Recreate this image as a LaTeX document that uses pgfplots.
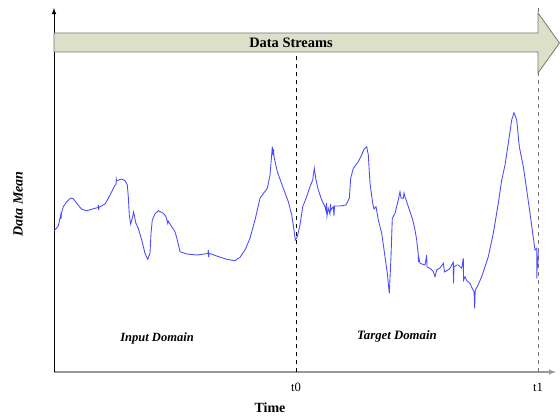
\documentclass[border=0pt]{standalone}
\usepackage{pgfplots}
\pgfplotsset{compat=1.18}
\usepackage{fontspec}
\setmainfont{Liberation Serif}
\definecolor{bandfill}{RGB}{220,224,200}
\definecolor{bandedge}{RGB}{120,120,120}
\definecolor{curve}{RGB}{75,75,255}
\begin{document}
\begin{tikzpicture}
\begin{axis}[
    scale only axis,
    width=376.5pt, height=273pt,
    xmin=54, xmax=556, ymin=45, ymax=409,
    axis lines=left,
    x axis line style={gray!80, line width=0.8pt, -latex},
    y axis line style={black, line width=0.6pt, -latex},
    xtick={296,538}, xticklabels={t0,t1},
    ytick=\empty,
    major tick length=0pt,
    xticklabel style={font=\fontsize{9.5}{10}\selectfont, yshift=-5pt},
    clip=false
]
% page extent
\path (axis cs:0,0) rectangle (axis cs:560,417);

% period markers
\draw[dashed, line width=0.6pt] (axis cs:296,45) -- (axis cs:296,365);
\draw[dashed, line width=0.6pt, gray!90!black] (axis cs:538,45) -- (axis cs:538,410);

% data streams arrow
\filldraw[fill=bandfill, draw=bandedge, line width=0.6pt]
  (axis cs:54,384) -- (axis cs:538,384) -- (axis cs:538,404) -- (axis cs:559.5,374)
  -- (axis cs:538,344) -- (axis cs:538,365) -- (axis cs:54,365) -- cycle;
\node[font=\bfseries\fontsize{10.8}{12}\selectfont] at (axis cs:291,374) {Data Streams};

\addplot[curve, line width=0.65pt] coordinates {
(54.3,186.3) (58.3,191) (60.7,202) (61,198) (61.5,204) (63.3,210.3) (66.7,215.3) (70.7,219) (73.3,218.3)
(76.7,213.7) (81.7,207.7) (86.7,206.3) (98,209.5) (98.3,212) (98.7,207) (99,209.7) (105,213)
(108.3,218.7) (111.7,225.3) (115,232) (116,232) (116.3,238) (116.7,236.3) (121.7,238) (125,236.3)
(127.3,232) (128.3,220.3) (129.3,202) (130.7,193) (132.7,200.3) (133.5,205) (134.3,202) (135.7,194.3)
(138.3,188.7) (141.7,177) (145,163.7) (147.7,157.7) (150,163.7) (151,183.7) (152.3,197) (155,203)
(158.3,206.3) (163.3,203.7) (166,200.3) (167.7,193.7) (168.2,196) (171.7,190.3) (175,185.3) (177.3,177)
(180,165.3) (186.7,163) (196.7,162) (208,163.5) (208.3,167) (208.6,160) (209,163.7) (216.7,161)
(226.7,157.7) (235,156.3) (240,159.7) (245,167) (250,178.7) (255,197) (260,218.7) (264,224.3)
(267.3,228.7) (270,242) (271.5,260) (272.3,270.3) (273,262) (273.5,268) (274,260.3) (277.3,245.3)
(282.7,230.3) (288.3,215.3) (291.7,202) (294,187) (295.3,177) (297.3,180.3)
(300,192) (302.7,210.3) (306.7,220.3) (310,230.3) (312.7,237) (314.3,248.7) (316,237) (318.3,227)
(321.7,217) (325,210.3) (326,206) (326.5,214) (327,201) (328.3,208.7) (330,203) (330.5,213)
(331,207) (333.3,210.3) (334,201) (334.5,211) (340,211) (346,212) (349.3,218.7) (350.7,238.7)
(353.3,248.7) (358.3,255.3) (361.7,262) (364,267.7) (366.7,270.3) (368.3,262) (370,233.7)
(372.7,213.7) (374,208) (376,210.3) (378.3,197) (381.7,183.7) (385,160.3) (387.3,143.7) (389.3,123.7)
(391,160.3) (392.3,198.7) (395,203.7) (398.3,217) (400,225.3) (401,219) (403.3,218.7) (404,224)
(405,220.3) (408.3,210.3) (411.7,200.3) (413,196) (415,187) (416.7,177) (418.3,162) (418.5,155)
(418.7,160) (420,153.7) (425,152) (426.7,162) (427,150) (430,148.7) (433.3,145.3) (435,140.3)
(436.7,147) (440,149) (443.3,153.7) (444.5,145) (448,147) (450,148.7) (453.3,155) (453.5,133.7)
(454,150) (456.7,152) (458.3,152) (461.7,148.7) (463.3,158.7) (463.6,137) (465,140.3) (467,136)
(470,133.7) (472,129) (474,125.3) (474.7,108.7) (475.2,127) (477.3,130.3) (481.7,140.3) (488.3,160.3)
(493.3,183.7) (498.3,213.7) (501.7,237) (505,252) (508.3,273.7) (511.7,297) (514,304.3) (516.7,297)
(519.3,270.3) (523.3,250.3) (526.7,227) (530,203.7) (532.7,183.7) (535,167) (536.7,168.7)
(536.9,138.7) (537.3,160) (537.7,150) (538.3,167)
};

\node[font=\bfseries\itshape\fontsize{9.4}{11}\selectfont] at (axis cs:157,79) {Input Domain};
\node[font=\bfseries\itshape\fontsize{9.6}{11}\selectfont] at (axis cs:397,81) {Target Domain};
\node[font=\bfseries\fontsize{10.5}{12}\selectfont] at (axis cs:270,9) {Time};
\node[font=\bfseries\itshape\fontsize{10.5}{12}\selectfont, rotate=90] at (axis cs:18,213) {Data Mean};
\end{axis}
\end{tikzpicture}
\end{document}
